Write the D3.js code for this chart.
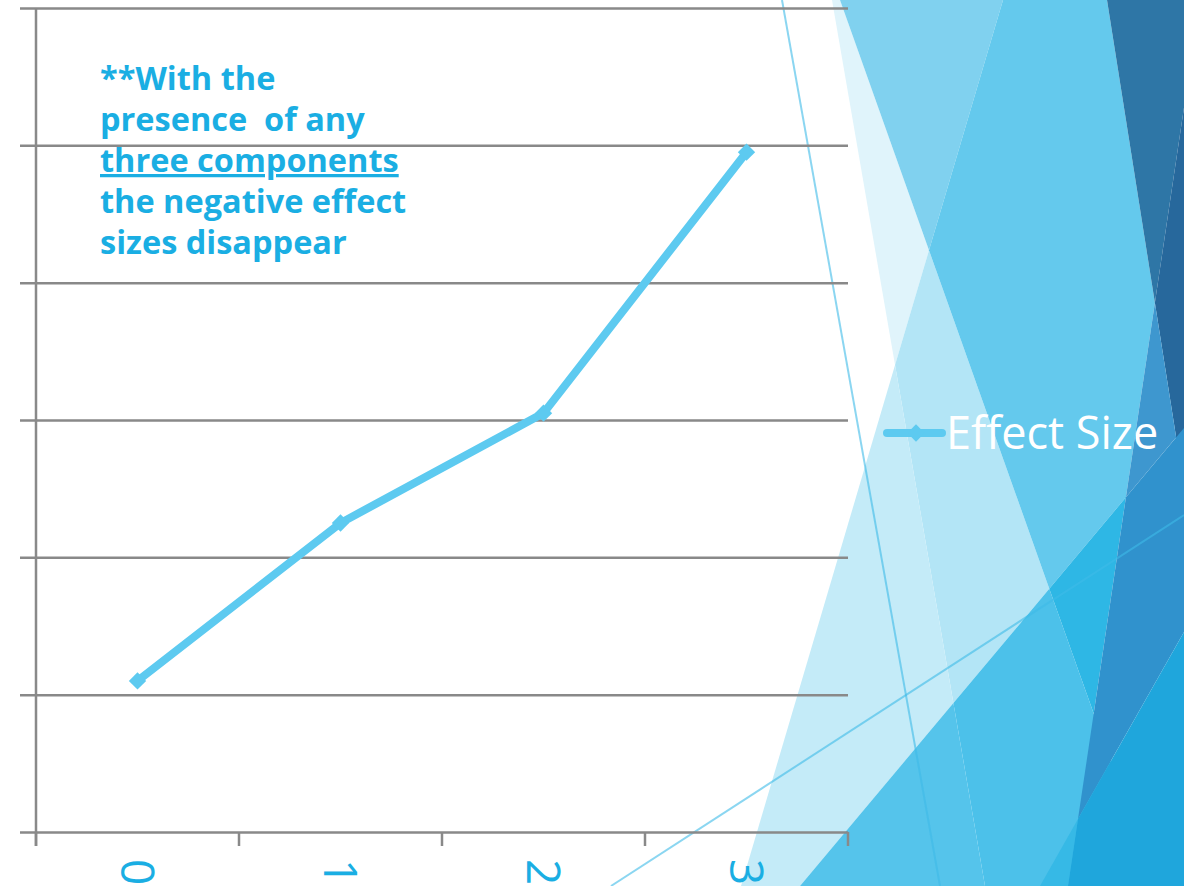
<!DOCTYPE html>
<html>
<head>
<meta charset="utf-8">
<script src="https://cdn.jsdelivr.net/npm/d3@7"></script>
<style>
  html, body { margin: 0; padding: 0; background: #fff; }
  svg { display: block; }
</style>
</head>
<body>
<div id="chart"></div>
<script>
// chart data
var categories = ['0', '1', '2', '3'];
var effect_size = [-0.38, -0.15, 0.01, 0.39];
var y_ticks = [-0.6, -0.4, -0.2, 0, 0.2, 0.4, 0.6];
var series_name = 'Effect Size';
var note_lines = ['**With the', 'presence  of any', 'three components', 'the negative effect', 'sizes disappear'];

var chart_width = 1184;
var chart_height = 886;

var svg = d3.select('#chart')
	.append('svg')
	.attr('width', chart_width)
	.attr('height', chart_height);

// ---- slide background (facet shapes) ----
var L1 = [[832, 0], [985, 886]];
var L2 = [[1003, 0], [741, 886]];
var L3 = [[840, 0], [1155, 886]];
var L4 = [[1107, 0], [1184, 487]];
var L5 = [[1200, 0], [1068, 886]];
var L6 = [[800, 886], [1184, 428]];
var L9 = [[1040, 886], [1184, 632]];
// R/L = right/left of steep line, A/B = above/below of shallow line
var SIGN = { R: -1, L: 1, A: -1, B: 1 };

var regions = [
	{ c: '#e0f4fb', h: [[L1, 'R'], [L3, 'L'], [L2, 'L']] },
	{ c: '#b3e5f6', h: [[L1, 'R'], [L3, 'L'], [L2, 'R'], [L6, 'A']] },
	{ c: '#c4ebf8', h: [[L1, 'L'], [L2, 'R'], [L6, 'A']] },
	{ c: '#80d1ef', h: [[L3, 'R'], [L2, 'L']] },
	{ c: '#64c9ed', h: [[L3, 'R'], [L2, 'R'], [L4, 'L'], [L5, 'L'], [L6, 'A']] },
	{ c: '#55c4eb', h: [[L1, 'L'], [L2, 'R'], [L6, 'B']] },
	{ c: '#4cc1ea', h: [[L1, 'R'], [L3, 'L'], [L6, 'B']] },
	{ c: '#2eb7e5', h: [[L3, 'R'], [L5, 'L'], [L6, 'B']] },
	{ c: '#36b9e6', h: [[L5, 'L'], [L9, 'B']] },
	{ c: '#2e76a6', h: [[L4, 'R'], [L5, 'L']] },
	{ c: '#27689c', h: [[L4, 'R'], [L5, 'R']] },
	{ c: '#3e97cf', h: [[L5, 'R'], [L4, 'L'], [L6, 'A']] },
	{ c: '#3092cd', h: [[L5, 'R'], [L6, 'B'], [L9, 'A']] },
	{ c: '#1fa6dc', h: [[L5, 'R'], [L9, 'B']] }
];

function side(l, p) {
	return (l[1][0] - l[0][0]) * (p[1] - l[0][1]) - (l[1][1] - l[0][1]) * (p[0] - l[0][0]);
}

function clip(poly, l, s) {
	var out = [];
	for (var i = 0; i < poly.length; i++) {
		var a = poly[i], b = poly[(i + 1) % poly.length];
		var fa = side(l, a) * s, fb = side(l, b) * s;
		if (fa >= 0) out.push(a);
		if ((fa >= 0) !== (fb >= 0)) {
			var t = fa / (fa - fb);
			out.push([a[0] + t * (b[0] - a[0]), a[1] + t * (b[1] - a[1])]);
		}
	}
	return out;
}

var bg = svg.append('g').attr('class', 'background');

regions.forEach(function(r) {
	var poly = [[0, 0], [chart_width, 0], [chart_width, chart_height], [0, chart_height]];
	r.h.forEach(function(hp) {
		poly = clip(poly, hp[0], SIGN[hp[1]]);
	});
	if (poly.length > 2) {
		bg.append('polygon')
			.attr('points', poly.map(function(p){ return p.join(','); }).join(' '))
			.attr('fill', r.c);
	}
});

// thin decorative lines
[[[611, 886], [1184, 515]], [[782, 0], [940, 886]]].forEach(function(l) {
	bg.append('line')
		.attr('x1', l[0][0]).attr('y1', l[0][1])
		.attr('x2', l[1][0]).attr('y2', l[1][1])
		.attr('stroke', '#3dbbe8')
		.attr('stroke-opacity', 0.6)
		.attr('stroke-width', 2);
});

// ---- chart ----
var plot = { left: 36, right: 848, top: 8, bottom: 832 };

var x_scale = d3.scalePoint()
	.domain(categories)
	.range([plot.left, plot.right])
	.padding(0.5);

var x_band = d3.scaleBand()
	.domain(categories)
	.range([plot.left, plot.right]);

var y_scale = d3.scaleLinear()
	.domain([d3.min(y_ticks), d3.max(y_ticks)])
	.range([plot.bottom, plot.top]);

// gridlines
var y_axis = d3.axisLeft(y_scale)
	.tickValues(y_ticks)
	.tickSize(-(plot.right - 20))
	.tickFormat('');

svg.append('g')
	.attr('class', 'y-grid')
	.attr('transform', 'translate(20,0)')
	.call(y_axis)
	.call(function(g){ g.select('.domain').remove(); })
	.selectAll('line')
	.attr('stroke', '#898989')
	.attr('stroke-width', 2.5);

// vertical axis line
svg.append('line')
	.attr('x1', plot.left).attr('x2', plot.left)
	.attr('y1', plot.top).attr('y2', plot.bottom + 14)
	.attr('stroke', '#898989')
	.attr('stroke-width', 2.5);

// x ticks at category boundaries
var tick_pos = categories.map(function(c){ return x_band(c); }).concat([plot.right]);
svg.selectAll('.x-tick')
	.data(tick_pos)
	.enter()
	.append('line')
	.attr('class', 'x-tick')
	.attr('x1', function(d){ return d; })
	.attr('x2', function(d){ return d; })
	.attr('y1', plot.bottom)
	.attr('y2', plot.bottom + 14)
	.attr('stroke', '#898989')
	.attr('stroke-width', 2.5);

// x labels, rotated
svg.selectAll('.x-label')
	.data(categories)
	.enter()
	.append('text')
	.attr('class', 'x-label')
	.attr('transform', function(d){ return 'translate(' + x_scale(d) + ',' + (plot.bottom + 27) + ') rotate(90)'; })
	.attr('dy', '0.35em')
	.attr('font-family', 'Open Sans, sans-serif')
	.attr('font-size', 46)
	.attr('fill', '#1aaee3')
	.text(function(d){ return d; });

// series line
var points = categories.map(function(c, i){ return { cat: c, value: effect_size[i] }; });

var line = d3.line()
	.x(function(d){ return x_scale(d.cat); })
	.y(function(d){ return y_scale(d.value); });

svg.append('path')
	.datum(points)
	.attr('d', line)
	.attr('fill', 'none')
	.attr('stroke', '#5dcaf0')
	.attr('stroke-width', 8);

var diamond = d3.symbol().type(d3.symbolSquare).size(150);

svg.selectAll('.marker')
	.data(points)
	.enter()
	.append('path')
	.attr('class', 'marker')
	.attr('d', diamond)
	.attr('transform', function(d){ return 'translate(' + x_scale(d.cat) + ',' + y_scale(d.value) + ') rotate(45)'; })
	.attr('fill', '#5dcaf0');

// legend
var legend = svg.append('g').attr('transform', 'translate(887,433)');
legend.append('line')
	.attr('x1', 0).attr('x2', 55)
	.attr('stroke', '#5dcaf0')
	.attr('stroke-width', 8)
	.attr('stroke-linecap', 'round');
legend.append('path')
	.attr('d', diamond)
	.attr('transform', 'translate(29,0) rotate(45)')
	.attr('fill', '#5dcaf0');
legend.append('text')
	.attr('x', 59)
	.attr('y', 16)
	.attr('font-family', 'Open Sans, sans-serif')
	.attr('font-size', 45)
	.attr('fill', '#ffffff')
	.text(series_name);

// annotation
svg.selectAll('.note')
	.data(note_lines)
	.enter()
	.append('text')
	.attr('class', 'note')
	.attr('x', 100)
	.attr('y', function(d, i){ return 90 + i * 41; })
	.attr('font-family', 'Open Sans, sans-serif')
	.attr('font-weight', 'bold')
	.attr('font-size', 32.5)
	.attr('fill', '#1aaee3')
	.style('white-space', 'pre')
	.attr('text-decoration', function(d, i){ return i === 2 ? 'underline' : null; })
	.text(function(d){ return d; });
</script>
</body>
</html>
